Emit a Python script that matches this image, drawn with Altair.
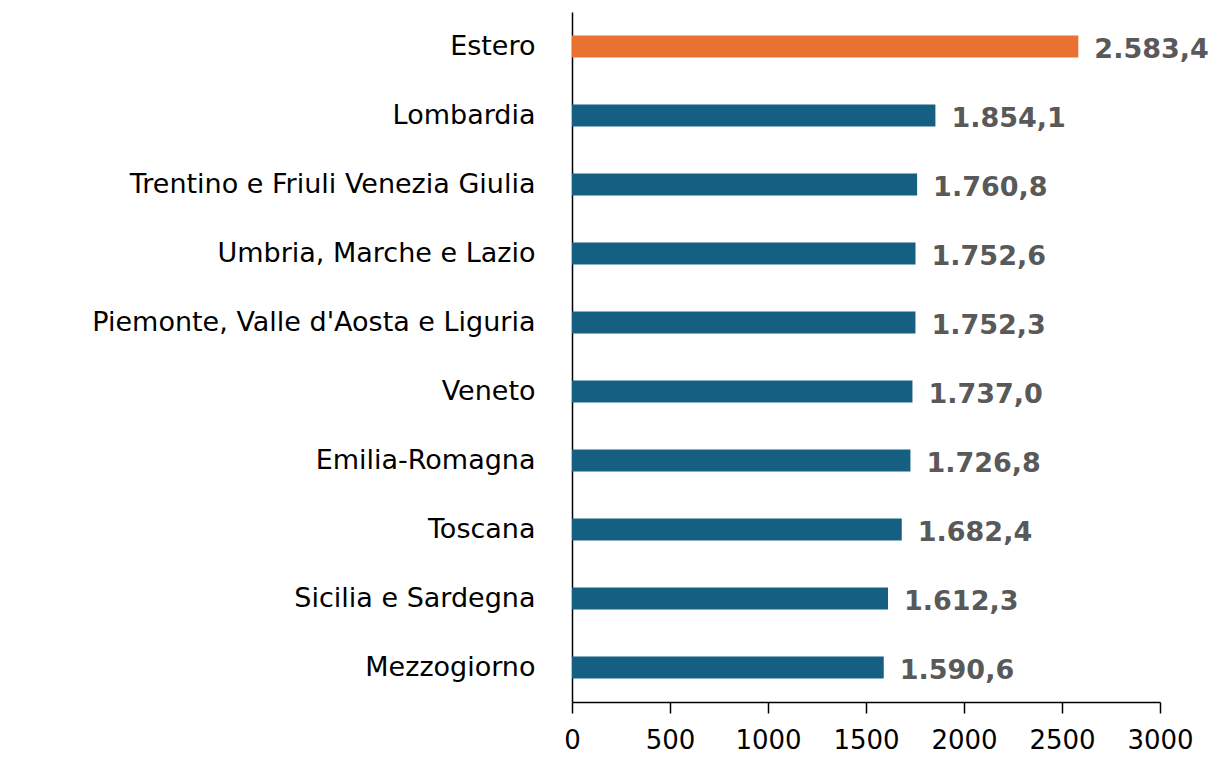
import altair as alt
import pandas as pd

categories = [
    "Estero",
    "Lombardia",
    "Trentino e Friuli Venezia Giulia",
    "Umbria, Marche e Lazio",
    "Piemonte, Valle d'Aosta e Liguria",
    "Veneto",
    "Emilia-Romagna",
    "Toscana",
    "Sicilia e Sardegna",
    "Mezzogiorno",
]
values = [2583.4, 1854.1, 1760.8, 1752.6, 1752.3, 1737.0, 1726.8, 1682.4, 1612.3, 1590.6]
groups = ["Estero"] + ["Italia"] * 9
x_ticks = [0, 500, 1000, 1500, 2000, 2500, 3000]


def it_fmt(v):
    s = f"{v:,.1f}"
    return s.replace(",", "X").replace(".", ",").replace("X", ".")


df = pd.DataFrame({
    "cat": categories,
    "val": values,
    "grp": groups,
    "lab": [it_fmt(v) for v in values],
})

FONT = "DejaVu Sans"

base = alt.Chart(df).encode(
    y=alt.Y(
        "cat:N",
        sort=categories,
        title=None,
        scale=alt.Scale(paddingInner=0, paddingOuter=0),
        axis=alt.Axis(
            ticks=False,
            labelPadding=37,
            labelFontSize=27,
            labelFont=FONT,
            labelColor="#000000",
            domainColor="#000000",
            domainWidth=1.5,
            labelLimit=0,
        ),
    ),
)

bars = base.mark_bar(size=22).encode(
    x=alt.X(
        "val:Q",
        title=None,
        scale=alt.Scale(domain=[0, 3000], nice=False),
        axis=alt.Axis(
            values=x_ticks,
            format="d",
            grid=False,
            tickSize=11,
            tickColor="#000000",
            tickWidth=1.5,
            domainColor="#000000",
            domainWidth=1.5,
            labelFontSize=26,
            labelFont=FONT,
            labelColor="#000000",
            labelPadding=14,
            labelOverlap=False,
            labelFlush=False,
        ),
    ),
    color=alt.Color(
        "grp:N",
        scale=alt.Scale(domain=["Estero", "Italia"], range=["#E97132", "#156082"]),
        legend=None,
    ),
)

text = base.mark_text(
    align="left",
    baseline="middle",
    dx=16,
    dy=3,
    font=FONT,
    fontSize=27,
    fontWeight="bold",
    color="#595959",
).encode(x="val:Q", text="lab:N")

chart = (
    (bars + text)
    .properties(
        width=588,
        height=690,
        autosize=alt.AutoSizeParams(type="none"),
        padding={"left": 564, "top": 4, "right": 48, "bottom": 56},
    )
    .configure_view(stroke=None)
)

chart.save("out.html", embed_options={"renderer": "svg", "actions": False})
